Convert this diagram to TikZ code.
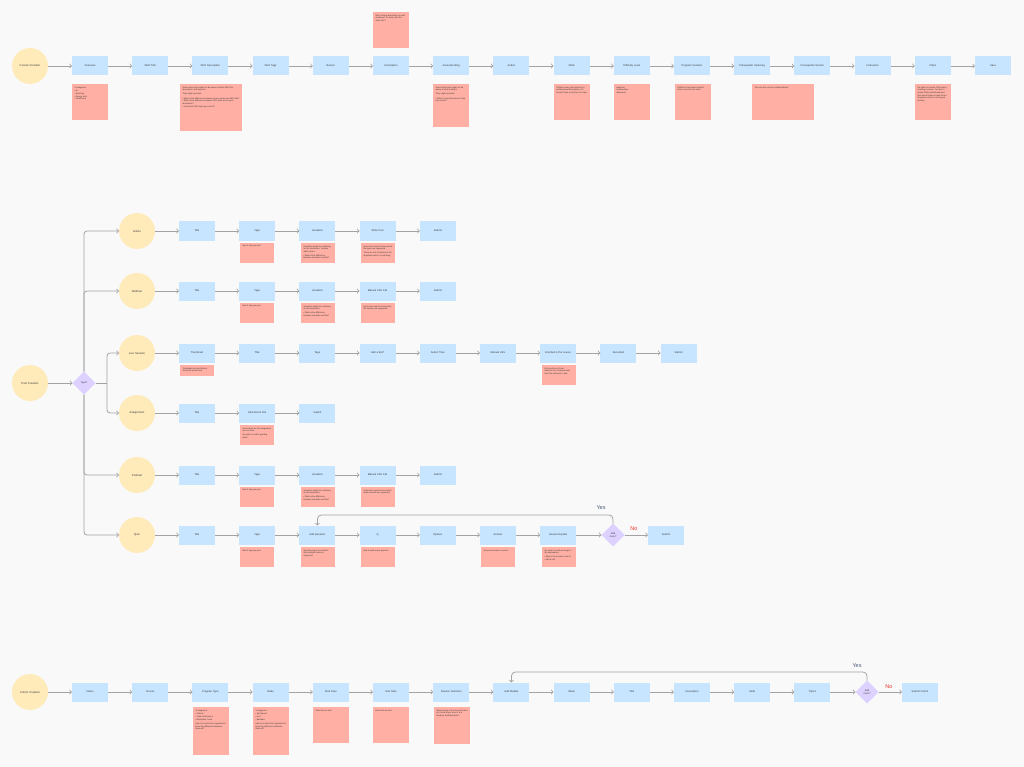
\documentclass[tikz,border=0pt]{standalone}
\usepackage{fontspec}
\setmainfont{Liberation Sans}
\usetikzlibrary{shapes.geometric}
\definecolor{boxblue}{HTML}{C7E5FF}
\definecolor{startyellow}{HTML}{FFEBBA}
\definecolor{notepink}{HTML}{FFAFA3}
\definecolor{choicepurple}{HTML}{DCD1FF}
\definecolor{linegray}{HTML}{A3A3A3}
\definecolor{pagebg}{HTML}{F9F9F9}
\definecolor{inkgray}{HTML}{3A3A3A}
\definecolor{yesblue}{HTML}{4C5B78}
\definecolor{nored}{HTML}{E5372B}
\newcommand{\notecard}[3]{\parbox[t][#2][t]{#1}{\raggedright #3}}
\begin{document}
\begin{tikzpicture}[x=1pt,y=-1pt,inner sep=0pt,outer sep=0pt,text=inkgray,
stepblock/.style={rectangle,fill=boxblue,minimum width=36pt,minimum height=19pt,text width=33pt,align=center,font=\fontsize{2.6}{3.1}\selectfont},
startblock/.style={circle,fill=startyellow,minimum size=36pt,text width=30pt,align=center,font=\fontsize{2.8}{3.3}\selectfont},
choiceblock/.style={diamond,fill=choicepurple,minimum width=23pt,minimum height=23pt,align=center,font=\fontsize{2.4}{2.9}\selectfont},
notepad/.style={rectangle,fill=notepink,anchor=north,inner sep=2.5pt,font=\fontsize{2.1}{2.7}\selectfont},
flow/.style={->,draw=linegray,line width=0.8pt},
answer/.style={font=\fontsize{5.5}{6}\selectfont}]
\fill[pagebg] (0,0) rectangle (1024,767);
\draw (30,66) node[startblock] (course) {Course Creation};
\foreach \lbl [count=\i] in {Overview,SEO Title,SEO Description,SEO Tags,Banner,Description,Associate Blog,Author,Skills,Difficulty Level,Program Duration,Prerequisite Summary,Prerequisite Section,Instructors,FAQs,Save}
  \node[stepblock] (c\i) at ({90+60.2*(\i-1)},66) {\lbl};
\draw[flow] (course) -- (c1);
\foreach \i [count=\j from 2] in {1,...,15} \draw[flow] (c\i) -- (c\j);
\draw (90,84) node[notepad] (n1) {\notecard{31pt}{31pt}{6 categories:\\[1pt] \textbullet~AI\\ \textbullet~Sourcing\\ \textbullet~Energy tech\\ \textbullet~Healthcare}};
\draw (211,84) node[notepad] (n2) {\notecard{57pt}{42pt}{Some instructors might not be aware of what SEO title, description, and tags are.\\[1.5pt] They might question:\\[1.5pt] \textbullet~What is the difference between course name and SEO title?\\ \textbullet~What is the difference between SEO titles and course description?\\ \textbullet~How does SEO help my content?}};
\draw (391,12) node[notepad] (n3) {\notecard{31pt}{31pt}{Why is there description as well as above? Do they cater the same info?}};
\draw (451,84) node[notepad] (n4) {\notecard{31pt}{38pt}{Some instructors might not be aware of what a blog is.\\[1.5pt] They might question:\\[1.5pt] \textbullet~What is it and how does it help my content?}};
\draw (572,84) node[notepad] (n5) {\notecard{31pt}{31pt}{Platform uses your instructor's profile-based description of it, doesn't have a structure for input.}};
\draw (632,84) node[notepad] (n6) {\notecard{31pt}{31pt}{Beginner\\ Intermediate\\ Advanced}};
\draw (693,84) node[notepad] (n7) {\notecard{31pt}{31pt}{Platform's text boxes doesn't have a structure for input}};
\draw (783,84) node[notepad] (n8) {\notecard{57pt}{31pt}{The one two can be combined better}};
\draw (933,84) node[notepad] (n9) {\notecard{31pt}{31pt}{No option to create FAQs when creating a course. You are to create FAQs beforehand and then select them as tags from a dropdown which is not a good practice}};
\draw (30,383) node[startblock] (post) {Post Creation};
\draw (84,383) node[choiceblock] (type) {Type?};
\draw[flow] (post) -- (type);
\draw (137,231) node[startblock] (art) {Article};
\draw (137,291) node[startblock] (web) {Webinar};
\draw (137,353) node[startblock] (live) {Live Session};
\draw (137,413) node[startblock] (asg) {Assignment};
\draw (137,475) node[startblock] (pod) {Podcast};
\draw (137,535) node[startblock] (quiz) {Quiz};
\coordinate (split) at (107,383);
\draw[flow,rounded corners=3pt] (type.north) |- (art);
\draw[flow,rounded corners=3pt] (type.north) |- (web);
\draw[flow,rounded corners=3pt] (type.south) |- (pod);
\draw[flow,rounded corners=3pt] (type.south) |- (quiz);
\draw[draw=linegray,line width=0.8pt] (type.east) -- (split);
\draw[flow,rounded corners=3pt] (split) |- (live);
\draw[flow,rounded corners=3pt] (split) |- (asg);
\foreach \lbl [count=\i] in {Title,Tags,Visualizer,Write Post,Submit}
  \node[stepblock] (a\i) at ({197+60.2*(\i-1)},231) {\lbl};
\draw[flow] (art) -- (a1);
\foreach \i [count=\j from 2] in {1,...,4} \draw[flow] (a\i) -- (a\j);
\foreach \lbl [count=\i] in {Title,Tags,Visualizer,Manual URL File,Submit}
  \node[stepblock] (b\i) at ({197+60.2*(\i-1)},291) {\lbl};
\draw[flow] (web) -- (b1);
\foreach \i [count=\j from 2] in {1,...,4} \draw[flow] (b\i) -- (b\j);
\foreach \lbl [count=\i] in {Thumbnail,Title,Tags,Add a Bot?,Select Time,Manual URL,Enrolled in the course,Recorded,Submit}
  \node[stepblock] (d\i) at ({197+60.2*(\i-1)},353) {\lbl};
\draw[flow] (live) -- (d1);
\foreach \i [count=\j from 2] in {1,...,8} \draw[flow] (d\i) -- (d\j);
\foreach \lbl [count=\i] in {Title,Attachment File,Submit}
  \node[stepblock] (e\i) at ({197+60.2*(\i-1)},413) {\lbl};
\draw[flow] (asg) -- (e1);
\foreach \i [count=\j from 2] in {1,...,2} \draw[flow] (e\i) -- (e\j);
\foreach \lbl [count=\i] in {Title,Tags,Visualizer,Manual URL File,Submit}
  \node[stepblock] (f\i) at ({197+60.2*(\i-1)},475) {\lbl};
\draw[flow] (pod) -- (f1);
\foreach \i [count=\j from 2] in {1,...,4} \draw[flow] (f\i) -- (f\j);
\foreach \lbl [count=\i] in {Title,Tags,Add Question,Q,Options,Answer,Answer Explain}
  \node[stepblock] (g\i) at ({197+60.2*(\i-1)},535) {\lbl};
\draw[flow] (quiz) -- (g1);
\foreach \i [count=\j from 2] in {1,...,6} \draw[flow] (g\i) -- (g\j);
\draw (613,535) node[choiceblock] (more1) {Add\\ more?};
\draw (666,535) node[stepblock] (qsub) {Submit};
\draw[flow] (g7) -- (more1);
\draw[flow] (more1) -- (qsub);
\draw[flow,rounded corners=4pt] (more1.north) -- ++(0,-8.5) -| (g3.north);
\draw (601,508) node[answer,text=yesblue] (yes1) {Yes};
\draw (634,529) node[answer,text=nored] (no1) {No};
\draw (257,243) node[notepad] (m1) {\notecard{29pt}{15pt}{Max 5 tags per post}};
\draw (318,243) node[notepad] (m2) {\notecard{29pt}{15pt}{Visualizer might be confusing for the instructors. Unclear what it does.\\[1pt] \textbullet~What is the difference between visualizer and file?}};
\draw (378,243) node[notepad] (m3) {\notecard{29pt}{15pt}{Instructors need to know which file types are supported.\\[1pt] There are lots of options in the dropdown which is confusing.}};
\draw (257,303) node[notepad] (m4) {\notecard{29pt}{15pt}{Max 5 tags per post}};
\draw (318,303) node[notepad] (m5) {\notecard{29pt}{15pt}{Visualizer might be confusing for the instructors.\\[1pt] \textbullet~What is the difference between visualizer and file?}};
\draw (378,303) node[notepad] (m6) {\notecard{29pt}{15pt}{Instructors need to know what file formats are supported}};
\draw (197,365) node[notepad] (m7) {\notecard{29pt}{6pt}{Thumbnail size and format should be mentioned}};
\draw (559,365) node[notepad] (m8) {\notecard{29pt}{15pt}{Only works on Zoom.\\ Needs a lot of manual work from the instructor's side}};
\draw (257,425) node[notepad] (m9) {\notecard{29pt}{15pt}{Instructions for the assignment are not clear.\\[1pt] No option to add a grading rubric.}};
\draw (257,487) node[notepad] (m10) {\notecard{29pt}{15pt}{Max 5 tags per post}};
\draw (318,487) node[notepad] (m11) {\notecard{29pt}{15pt}{Visualizer might be confusing for the instructors.\\[1pt] \textbullet~What is the difference between visualizer and file?}};
\draw (378,487) node[notepad] (m12) {\notecard{29pt}{15pt}{Instructors need to know what audio formats are supported}};
\draw (257,547) node[notepad] (m13) {\notecard{29pt}{15pt}{Max 5 tags per quiz}};
\draw (318,547) node[notepad] (m14) {\notecard{29pt}{15pt}{Question types are limited, only multiple choice is supported}};
\draw (378,547) node[notepad] (m15) {\notecard{29pt}{15pt}{Max 4 options per question}};
\draw (498,547) node[notepad] (m16) {\notecard{29pt}{15pt}{Only one answer is correct}};
\draw (559,547) node[notepad] (m17) {\notecard{29pt}{15pt}{No option to add an image to the explanation.\\[1pt] \textbullet~Why is the answer correct?\\ \textbullet~Add a hint}};
\draw (30,692) node[startblock] (cohort) {Cohort Creation};
\foreach \lbl [count=\i] in {Name,Access,Program Type,Mode,Start Date,End Date,Session Selection,Add Module,Week,Title,Description,Skills,Topics}
  \node[stepblock] (h\i) at ({90+60.2*(\i-1)},692) {\lbl};
\draw[flow] (cohort) -- (h1);
\foreach \i [count=\j from 2] in {1,...,12} \draw[flow] (h\i) -- (h\j);
\draw (867,692) node[choiceblock] (more2) {Add\\ more?};
\draw (920,692) node[stepblock] (csub) {Submit Cohort};
\draw[flow] (h13) -- (more2);
\draw[flow] (more2) -- (csub);
\draw[flow,rounded corners=4pt] (more2.north) -- ++(0,-8.5) -| (h8.north);
\draw (857,666) node[answer,text=yesblue] (yes2) {Yes};
\draw (889,687) node[answer,text=nored] (no2) {No};
\draw (211,707) node[notepad] (k1) {\notecard{31pt}{43pt}{3 categories:\\[1pt] \textbullet~Classic\\ \textbullet~Team Inheritance\\ \textbullet~Enterprise Track\\[1.5pt] How is an instructor supposed to know the difference between these all?}};
\draw (271,707) node[notepad] (k2) {\notecard{31pt}{43pt}{3 categories:\\[1pt] \textbullet~Self paced\\ \textbullet~Live\\ \textbullet~Blended\\[1.5pt] How is an instructor supposed to know the difference between these all?}};
\draw (331,707) node[notepad] (k3) {\notecard{31pt}{31pt}{Date time as well}};
\draw (391,707) node[notepad] (k4) {\notecard{31pt}{31pt}{Date time as well}};
\draw (452,707) node[notepad] (k5) {\notecard{31pt}{32pt}{What exactly is the slot and when do I know them, since it is a freedom facilitated date?}};
\end{tikzpicture}
\end{document}
